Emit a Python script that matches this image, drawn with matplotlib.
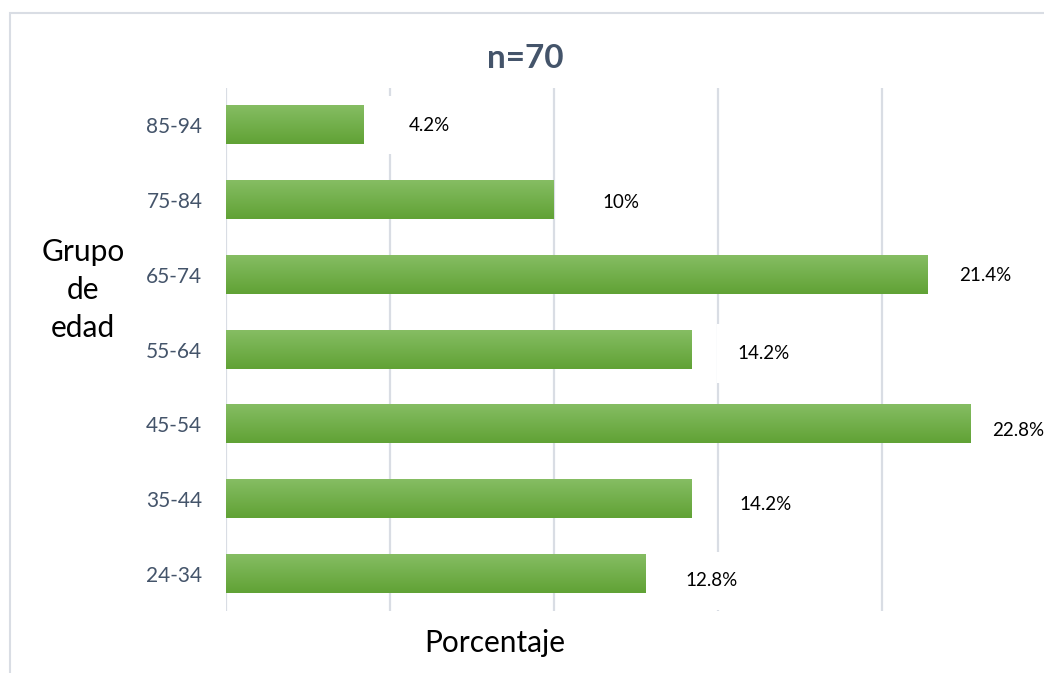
import matplotlib.pyplot as plt
import numpy as np
from matplotlib.patches import Rectangle

# data (bottom to top)
groups = ['24-34', '35-44', '45-54', '55-64', '65-74', '75-84', '85-94']
values = [12.8, 14.2, 22.8, 14.2, 21.4, 10, 4.2]
labels = ['12.8%', '14.2%', '22.8%', '14.2%', '21.4%', '10%', '4.2%']

# manual label nudges (px), like the hand-placed labels in the original
label_dx = [40, 48, 18, 46, 31, 48, 45]
label_dy = [-7, -6, -6, -4, -1, -2, 0]

plt.rcParams['font.family'] = ['Lato', 'DejaVu Sans']

fig = plt.figure(figsize=(10.44, 6.73), dpi=100)
W, H = 1044, 673
ax = fig.add_axes([226 / W, 1 - 611 / H, 820 / W, 523 / H])

y = np.arange(len(groups))
bars = ax.barh(y, values, height=0.51, color='none', zorder=2)

# vertical green gradient on each bar
grad = np.linspace(0, 1, 64).reshape(-1, 1)
top = np.array([0x86, 0xbd, 0x63]) / 255
bot = np.array([0x60, 0xa2, 0x35]) / 255
img = (top + (bot - top) * grad[..., None]).reshape(64, 1, 3)
for b in bars:
    x0, y0, w, h = b.get_x(), b.get_y(), b.get_width(), b.get_height()
    ax.imshow(img, extent=[x0, x0 + w, y0, y0 + h], aspect='auto',
              origin='upper', zorder=2, interpolation='bilinear')

for i, (v, lab) in enumerate(zip(values, labels)):
    ax.annotate(lab, (v, i), xytext=(label_dx[i] * 0.72, label_dy[i] * 0.72),
                textcoords='offset points', ha='left', va='center',
                fontsize=13.5, color='#000000', zorder=4,
                bbox=dict(boxstyle='square,pad=1.1', fc='white', ec='none'))

ax.set_xlim(0, 25)
ax.set_ylim(-0.5, len(groups) - 0.5)
ax.set_xticks([0, 5, 10, 15, 20, 25])
ax.set_xticklabels([])
ax.set_yticks(y)
ax.set_yticklabels(groups, fontsize=15, color='#44546a')
ax.tick_params(axis='both', length=0)
ax.tick_params(axis='y', pad=17)
ax.grid(axis='x', color='#d9dde4', linewidth=1.6, zorder=0)
ax.set_axisbelow(True)
for s in ax.spines.values():
    s.set_visible(False)

fig.text(525 / W, 1 - 58 / H, 'n=70', ha='center', va='center',
         fontsize=24, fontweight='bold', color='#44546a')
fig.text(495 / W, 1 - 643 / H, 'Porcentaje', ha='center', va='center',
         fontsize=21.5, color='#000000')
fig.text(83 / W, 1 - 290 / H, 'Grupo\nde\nedad', ha='center', va='center',
         fontsize=21.5, color='#000000', linespacing=1.42, multialignment='center')

# outer chart frame
fig.patches.append(Rectangle((9.5 / W, -0.1), 1.2, 1 - 12.5 / H + 0.1,
                             transform=fig.transFigure, fill=False,
                             ec='#d9dde4', lw=1.5))

fig.savefig('out.png', dpi=100)
